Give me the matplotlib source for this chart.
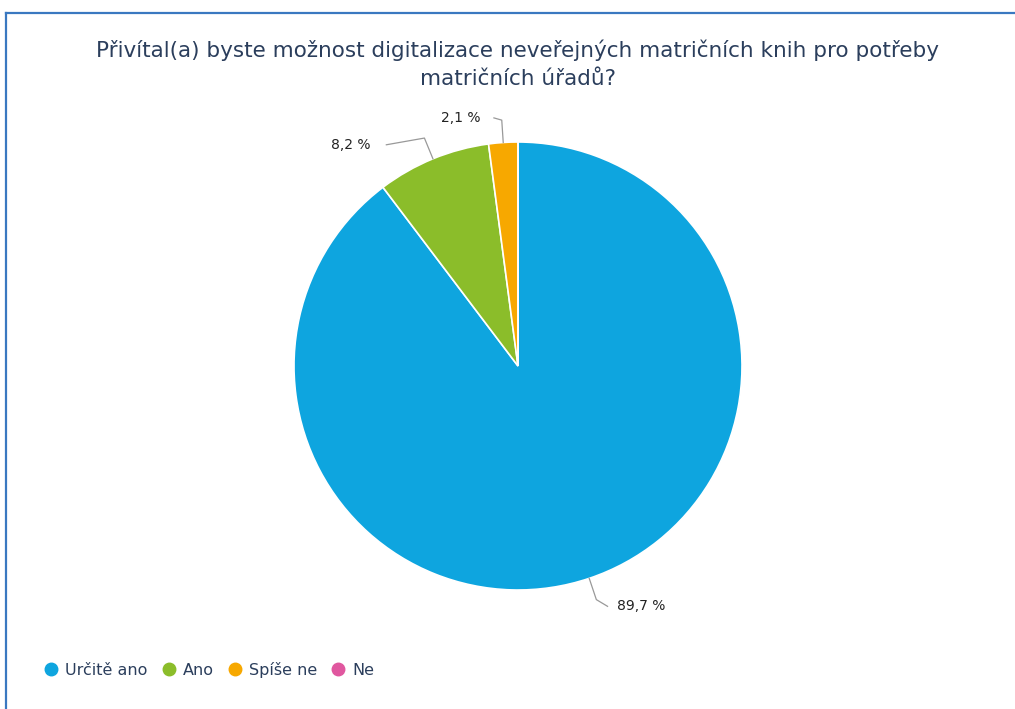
import matplotlib
matplotlib.use("Agg")
import matplotlib.pyplot as plt
import numpy as np
from matplotlib.lines import Line2D

# data
categories = ["Určitě ano", "Ano", "Spíše ne", "Ne"]
shares = [89.7, 8.2, 2.1, 0.0]
colors = ["#0ea5df", "#8bbd2a", "#f7a800", "#e0579f"]
title = "Přivítal(a) byste možnost digitalizace neveřejných matričních knih pro potřeby\nmatričních úřadů?"

W, H = 1015, 709
fig = plt.figure(figsize=(W / 100, H / 100), dpi=100)
fig.patch.set_facecolor("white")

# frame (top and left edge only, like the source screenshot)
fig.add_artist(Line2D([6 / W, 1], [1 - 13 / H, 1 - 13 / H], color="#3a78c0", lw=1.6))
fig.add_artist(Line2D([6 / W, 6 / W], [0, 1 - 13 / H], color="#3a78c0", lw=1.6))

fig.text(518 / W, 1 - 64 / H, title, ha="center", va="center", fontsize=15.45,
         color="#2b3e5c", linespacing=1.5, family="DejaVu Sans")

cx, cy, r = 518, 366, 224
ax = fig.add_axes([(cx - r) / W, (H - cy - r) / H, 2 * r / W, 2 * r / H])

wedges, _ = ax.pie(shares, colors=colors, startangle=90, counterclock=False,
                   radius=1, wedgeprops=dict(edgecolor="white", linewidth=1.2))
ax.set_xlim(-1, 1)
ax.set_ylim(-1, 1)
ax.axis("off")

# labels with leader lines
total = sum(shares)
cum = 0
for val in shares:
    mid = 90 - 360 * (cum + val / 2) / total
    cum += val
    if val == 0:
        continue
    a = np.deg2rad(mid)
    x0, y0 = np.cos(a), np.sin(a)
    x1, y1 = 1.1 * x0, 1.1 * y0
    if abs(x0) < 0.15:
        x2, y2 = x1 - 0.035, y1 + 0.01
        tx = x2 - 0.06
    elif x0 > 0:
        x2, y2 = x1 + 0.05, y1 - 0.03
        tx = x2 + 0.04
    else:
        x2, y2 = x1 - 0.17, y1 - 0.03
        tx = x2 - 0.07
    ax.plot([x0, x1, x2], [y0, y1, y2], color="#999999", lw=0.9, clip_on=False)
    lab = f"{val:.1f}".replace(".", ",") + " %"
    ax.text(tx, y2, lab, ha="left" if tx > x2 else "right",
            va="center", fontsize=10, color="#222222", family="DejaVu Sans")

handles = [Line2D([], [], marker="o", ls="", markersize=9, color=c) for c in colors]
fig.legend(handles, categories, loc="center left", bbox_to_anchor=(29 / W, 1 - 670 / H),
           ncol=4, frameon=False, handletextpad=0.35, columnspacing=0.85,
           handlelength=1.0, prop={"size": 11.5, "family": "DejaVu Sans"},
           labelcolor="#2b3e5c")

fig.savefig("out.png", dpi=100, facecolor="white")
